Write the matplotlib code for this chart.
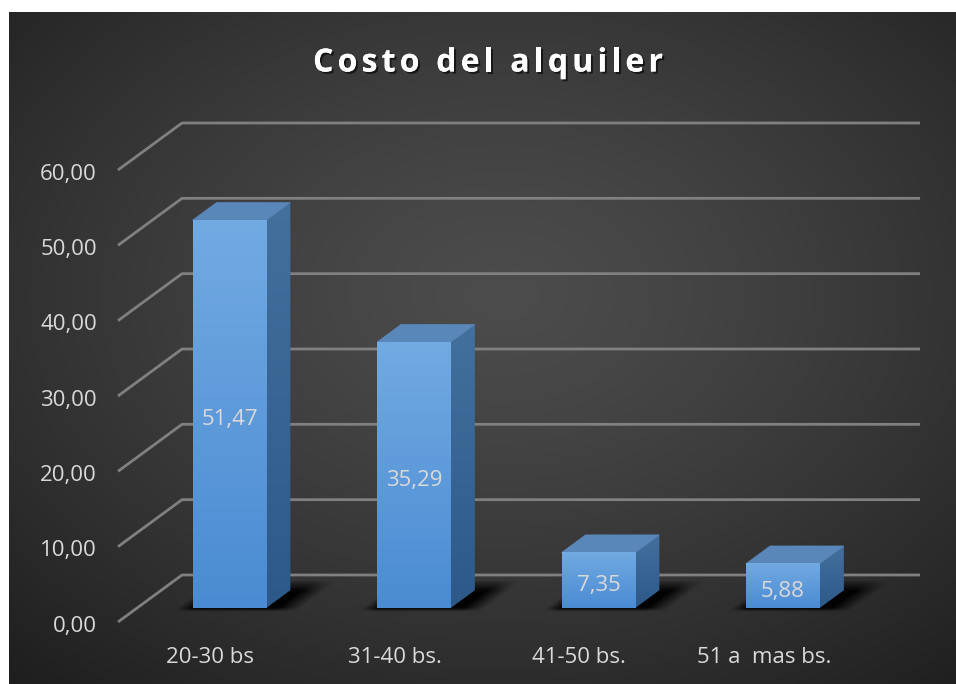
import numpy as np
import matplotlib.pyplot as plt
import matplotlib.patheffects as pe
from matplotlib.patches import Polygon
from matplotlib.colors import LinearSegmentedColormap
from matplotlib.font_manager import FontProperties

# data
categories = ['20-30 bs', '31-40 bs.', '41-50 bs.', '51 a  mas bs.']
values = [51.47, 35.29, 7.35, 5.88]
value_labels = ['51,47', '35,29', '7,35', '5,88']
yticks = [0, 10, 20, 30, 40, 50, 60]
ytick_labels = ['0,00', '10,00', '20,00', '30,00', '40,00', '50,00', '60,00']
title = 'Costo del alquiler'

# oblique depth offset (data units per unit of depth)
DX = 0.347
DY = 6.24
BAR_HALF = 0.2
D0, D1 = 0.3, 0.675


def proj(x, y, d):
    return x + d * DX, y + d * DY


def soft(t, w):
    return np.clip(t / w + 0.5, 0, 1)


fig = plt.figure(figsize=(9.56, 6.84), dpi=100)
fig.patch.set_facecolor('white')

# dark radial background
bg = fig.add_axes([9 / 956, 0, 947 / 956, 672 / 684])
bg.axis('off')
ny, nx = 400, 560
yy, xx = np.mgrid[0:1:ny * 1j, 0:1:nx * 1j]
r = np.sqrt(((xx - 0.52) / 0.75) ** 2 + ((yy - 0.42) / 0.75) ** 2)
shade = np.clip(0x4c - (0x4c - 0x20) * r ** 1.3, 0x1e, 0x4c) / 255.0
bg.imshow(np.dstack([shade] * 3), extent=[0, 1, 0, 1], origin='upper',
          aspect='auto', interpolation='bilinear')
bg.set_xlim(0, 1)
bg.set_ylim(0, 1)

ax = fig.add_axes([118 / 956, 62 / 684, 738 / 956, 452 / 684])
ax.set_xlim(-0.5, 3.5)
ax.set_ylim(0, 60)
ax.axis('off')
ax.patch.set_alpha(0)

grid_color = '#808080'
for v in yticks:
    xa, ya = proj(-0.5, v, 0)
    xb, yb = proj(-0.5, v, 1)
    xc, yc = proj(3.5, v, 1)
    ax.plot([xa, xb, xc], [ya, yb, yc], color=grid_color, lw=2,
            solid_capstyle='butt', clip_on=False, zorder=1)

text_color = '#d9d9d9'
FS = 16
for v, lab in zip(yticks, ytick_labels):
    ax.text(-0.615, v - 0.55, lab, ha='right', va='center', color=text_color,
            fontsize=FS, family='Open Sans', clip_on=False)

front_cmap = LinearSegmentedColormap.from_list('front', ['#4a8bd3', '#72aae2'])
side_cmap = LinearSegmentedColormap.from_list('side', ['#2c5988', '#44709e'])
grad = np.linspace(0, 1, 256).reshape(-1, 1)

for i, (v, cat, lab) in enumerate(zip(values, categories, value_labels)):
    x0, x1 = i - BAR_HALF, i + BAR_HALF

    # soft shadow on the floor
    ex = [i - 0.4, i + 0.75, -0.6, 5.5]
    gx, gy = np.meshgrid(np.linspace(ex[0], ex[1], 240),
                         np.linspace(ex[2], ex[3], 120))
    dd = gy / DY
    xf = gx - dd * DX
    a = (soft(xf - (x0 - 0.04), 0.09) * soft((x1 + 0.12) - xf, 0.12)
         * soft(dd - 0.27, 0.08) * soft(0.8 - dd, 0.25))
    rgba = np.zeros(gx.shape + (4,))
    rgba[..., 3] = 0.95 * a
    ax.imshow(rgba, extent=ex, origin='lower', aspect='auto', zorder=2,
              clip_on=False, interpolation='bilinear')

    # side face
    side = Polygon([proj(x1, 0, D0), proj(x1, 0, D1), proj(x1, v, D1), proj(x1, v, D0)],
                   closed=True, facecolor='none', edgecolor='none', zorder=3)
    ax.add_patch(side)
    sx0, sy0 = proj(x1, 0, D0)
    sx1, sy1 = proj(x1, v, D1)
    im = ax.imshow(grad, cmap=side_cmap, extent=[sx0, sx1, sy0, sy1],
                   origin='lower', aspect='auto', zorder=3, clip_on=True)
    im.set_clip_path(side)
    # top face
    ax.add_patch(Polygon([proj(x0, v, D0), proj(x1, v, D0), proj(x1, v, D1), proj(x0, v, D1)],
                         closed=True, facecolor='#5a87b9', edgecolor='#5a87b9',
                         lw=0.5, zorder=3))
    # front face
    fx0, fy0 = proj(x0, 0, D0)
    fx1, fy1 = proj(x1, v, D0)
    ax.imshow(grad, cmap=front_cmap, extent=[fx0, fx1, fy0, fy1],
              origin='lower', aspect='auto', zorder=4)

    cx, cy = proj(i, v / 2, D0)
    ax.text(cx, cy - 0.7, lab, ha='center', va='center', color=text_color,
            fontsize=FS, family='Open Sans', zorder=6)
    ax.text(i, -4.7, cat, ha='center', va='center', color=text_color,
            fontsize=FS, family='Open Sans', clip_on=False)

ax.set_xlim(-0.5, 3.5)
ax.set_ylim(0, 60)

# title with extra letter spacing, placed character by character
renderer = fig.canvas.get_renderer()
tprops = FontProperties(family='Open Sans', weight='bold', size=23)
spacing = 4.2


def text_width(s):
    w_ref, _, _ = renderer.get_text_width_height_descent('I', tprops, ismath=False)
    w, _, _ = renderer.get_text_width_height_descent(s + 'I', tprops, ismath=False)
    return w - w_ref


total = text_width(title) + spacing * (len(title) - 1)
start = 488 - total / 2
ty = 684 - 63
for k, ch in enumerate(title):
    if ch == ' ':
        continue
    px = start + text_width(title[:k]) + spacing * k
    fig.text(px / 956, ty / 684, ch, ha='left', va='center', color='white',
             fontproperties=tprops,
             path_effects=[pe.withSimplePatchShadow(offset=(1.5, -1.5),
                                                    shadow_rgbFace='black', alpha=0.6),
                           pe.Normal()])

fig.savefig('out.png', dpi=100, facecolor=fig.get_facecolor())
